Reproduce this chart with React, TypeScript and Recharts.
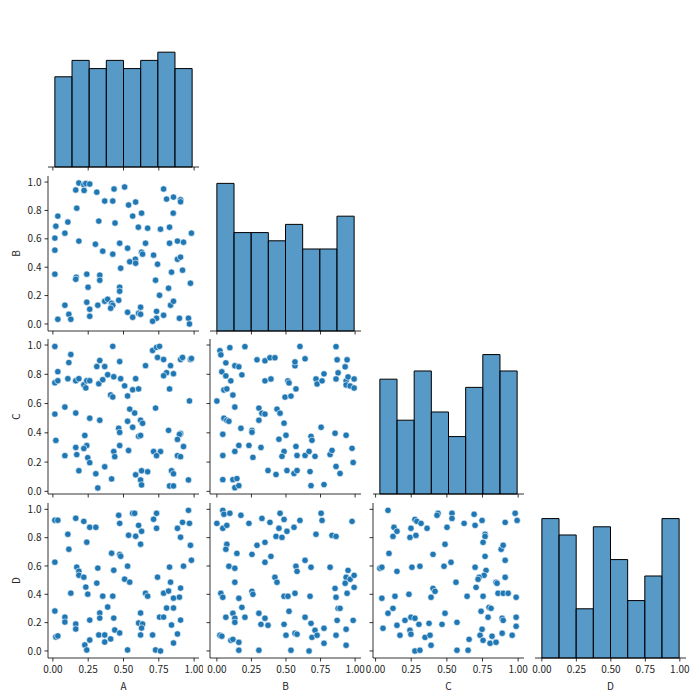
import React from 'react';
import { ScatterChart, Scatter, XAxis, YAxis, ComposedChart, ReferenceArea } from 'recharts';

// ---- variable names and value ranges (min, max) ----
const varNames = ['A', 'B', 'C', 'D'];
const rangeA = [0.014, 0.986];
const rangeB = [0.0, 0.993];
const rangeC = [0.03, 0.993];
const rangeD = [0.0, 0.995];

// ---- histogram counts (8 bins each) ----
const histA = [11, 13, 12, 13, 12, 13, 14, 12];
const histB = [18, 12, 12, 11, 13, 10, 10, 14];
const histC = [14, 9, 15, 10, 7, 13, 17, 15];
const histD = [17, 15, 6, 16, 12, 7, 10, 17];

// ---- tick values ----
const xTickValues = [0, 0.25, 0.5, 0.75, 1.0];
const yTickValues = [0, 0.2, 0.4, 0.6, 0.8, 1.0];

// ---- scatter points [x, y] ----
const ptsAB = [
  [0.184, 0.993], [0.219, 0.981], [0.233, 0.99], [0.261, 0.986], [0.162, 0.944], [0.221, 0.941], [0.311, 0.929], [0.433, 0.951],
  [0.508, 0.965], [0.784, 0.951], [0.805, 0.88], [0.854, 0.894], [0.904, 0.875], [0.904, 0.861], [0.367, 0.866], [0.424, 0.866],
  [0.536, 0.838], [0.586, 0.859], [0.169, 0.816], [0.852, 0.781], [0.628, 0.781], [0.565, 0.76], [0.035, 0.76], [0.021, 0.689],
  [0.106, 0.718], [0.325, 0.725], [0.44, 0.711], [0.605, 0.682], [0.671, 0.675], [0.762, 0.668], [0.826, 0.682], [0.981, 0.64],
  [0.085, 0.64], [0.014, 0.605], [0.184, 0.584], [0.301, 0.562], [0.473, 0.569], [0.656, 0.569], [0.882, 0.584], [0.925, 0.576],
  [0.826, 0.569], [0.014, 0.52], [0.353, 0.513], [0.529, 0.534], [0.424, 0.492], [0.628, 0.506], [0.635, 0.492], [0.713, 0.485],
  [0.584, 0.456], [0.544, 0.438], [0.586, 0.428], [0.741, 0.421], [0.882, 0.456], [0.904, 0.471], [0.48, 0.393], [0.918, 0.379],
  [0.84, 0.365], [0.014, 0.351], [0.165, 0.329], [0.162, 0.315], [0.24, 0.351], [0.332, 0.344], [0.332, 0.308], [0.727, 0.308],
  [0.974, 0.287], [0.249, 0.259], [0.473, 0.259], [0.473, 0.231], [0.819, 0.252], [0.755, 0.202], [0.085, 0.132], [0.24, 0.153],
  [0.367, 0.16], [0.388, 0.174], [0.466, 0.167], [0.416, 0.146], [0.424, 0.132], [0.409, 0.111], [0.318, 0.132], [0.261, 0.104],
  [0.621, 0.118], [0.833, 0.132], [0.854, 0.16], [0.113, 0.068], [0.035, 0.033], [0.127, 0.033], [0.261, 0.054], [0.529, 0.082],
  [0.565, 0.047], [0.607, 0.075], [0.621, 0.068], [0.734, 0.089], [0.734, 0.04], [0.784, 0.061], [0.706, 0.019], [0.896, 0.04],
  [0.96, 0.04], [0.967, 0.0],
];

const ptsAC = [
  [0.014, 0.99], [0.127, 0.935], [0.113, 0.88], [0.035, 0.818], [0.014, 0.742], [0.035, 0.756], [0.106, 0.77], [0.162, 0.756],
  [0.184, 0.77], [0.219, 0.728], [0.233, 0.707], [0.24, 0.756], [0.261, 0.756], [0.311, 0.853], [0.332, 0.894], [0.367, 0.853],
  [0.388, 0.797], [0.325, 0.735], [0.353, 0.763], [0.424, 0.991], [0.473, 0.887], [0.431, 0.783], [0.48, 0.77], [0.508, 0.721],
  [0.586, 0.77], [0.565, 0.694], [0.607, 0.7], [0.529, 0.652], [0.409, 0.659], [0.424, 0.645], [0.656, 0.859], [0.706, 0.963],
  [0.734, 0.984], [0.755, 0.991], [0.741, 0.915], [0.784, 0.901], [0.833, 0.859], [0.854, 0.804], [0.805, 0.811], [0.784, 0.79],
  [0.826, 0.7], [0.904, 0.901], [0.918, 0.915], [0.974, 0.901], [0.981, 0.908], [0.014, 0.528], [0.085, 0.576], [0.162, 0.535],
  [0.261, 0.5], [0.332, 0.486], [0.544, 0.562], [0.579, 0.535], [0.727, 0.569], [0.529, 0.479], [0.565, 0.438], [0.621, 0.486],
  [0.635, 0.465], [0.466, 0.431], [0.473, 0.403], [0.967, 0.618], [0.021, 0.348], [0.226, 0.382], [0.24, 0.313], [0.162, 0.3],
  [0.219, 0.293], [0.169, 0.251], [0.085, 0.244], [0.247, 0.23], [0.261, 0.196], [0.184, 0.141], [0.607, 0.376], [0.621, 0.382],
  [0.473, 0.313], [0.431, 0.272], [0.438, 0.237], [0.536, 0.279], [0.819, 0.417], [0.904, 0.396], [0.896, 0.389], [0.882, 0.355],
  [0.925, 0.306], [0.882, 0.244], [0.904, 0.237], [0.713, 0.272], [0.762, 0.272], [0.734, 0.244], [0.304, 0.12], [0.367, 0.168],
  [0.416, 0.085], [0.318, 0.023], [0.628, 0.141], [0.671, 0.134], [0.586, 0.113], [0.621, 0.078], [0.628, 0.044], [0.84, 0.141],
  [0.854, 0.12], [0.826, 0.037], [0.854, 0.037], [0.96, 0.078],
];

const ptsBC = [
  [0.022, 0.961], [0.029, 0.933], [0.094, 0.982], [0.203, 0.989], [0.065, 0.878], [0.13, 0.858], [0.159, 0.851], [0.181, 0.796],
  [0.036, 0.817], [0.065, 0.789], [0.101, 0.755], [0.051, 0.693], [0.072, 0.7], [0.116, 0.658], [0.0, 0.617], [0.13, 0.576],
  [0.29, 0.899], [0.348, 0.892], [0.384, 0.913], [0.42, 0.913], [0.348, 0.755], [0.391, 0.768], [0.493, 0.644], [0.536, 0.651],
  [0.514, 0.755], [0.522, 0.741], [0.572, 0.7], [0.565, 0.858], [0.565, 0.885], [0.638, 0.906], [0.601, 0.99], [0.717, 0.768],
  [0.725, 0.734], [0.761, 0.755], [0.775, 0.803], [0.862, 0.989], [0.87, 0.899], [0.942, 0.899], [0.877, 0.81], [0.928, 0.851],
  [0.862, 0.768], [0.935, 0.755], [0.949, 0.782], [0.935, 0.727], [0.964, 0.72], [0.993, 0.768], [0.993, 0.706], [0.051, 0.5],
  [0.072, 0.486], [0.087, 0.479], [0.043, 0.39], [0.174, 0.431], [0.304, 0.569], [0.326, 0.534], [0.348, 0.528], [0.304, 0.486],
  [0.435, 0.562], [0.457, 0.534], [0.486, 0.466], [0.449, 0.356], [0.5, 0.383], [0.254, 0.417], [0.254, 0.404], [0.043, 0.245],
  [0.13, 0.273], [0.159, 0.314], [0.232, 0.314], [0.261, 0.232], [0.319, 0.3], [0.486, 0.273], [0.471, 0.239], [0.572, 0.307],
  [0.58, 0.245], [0.638, 0.245], [0.667, 0.273], [0.681, 0.376], [0.688, 0.349], [0.71, 0.239], [0.754, 0.438], [0.819, 0.252],
  [0.833, 0.28], [0.855, 0.397], [0.935, 0.383], [0.978, 0.294], [0.986, 0.197], [0.862, 0.17], [0.891, 0.122], [0.043, 0.08],
  [0.116, 0.08], [0.145, 0.087], [0.13, 0.025], [0.159, 0.039], [0.37, 0.142], [0.428, 0.115], [0.507, 0.142], [0.558, 0.122],
  [0.58, 0.142], [0.674, 0.135], [0.681, 0.039], [0.775, 0.046],
];

const ptsAD = [
  [0.014, 0.923], [0.035, 0.923], [0.162, 0.937], [0.219, 0.915], [0.261, 0.873], [0.304, 0.873], [0.106, 0.824], [0.24, 0.768],
  [0.113, 0.718], [0.014, 0.627], [0.466, 0.958], [0.473, 0.901], [0.565, 0.972], [0.579, 0.972], [0.607, 0.887], [0.628, 0.845],
  [0.536, 0.817], [0.586, 0.81], [0.621, 0.754], [0.713, 0.93], [0.734, 0.972], [0.734, 0.866], [0.882, 0.866], [0.904, 0.803],
  [0.918, 0.908], [0.96, 0.993], [0.967, 0.901], [0.974, 0.746], [0.981, 0.641], [0.169, 0.592], [0.184, 0.563], [0.184, 0.535],
  [0.219, 0.521], [0.318, 0.585], [0.311, 0.479], [0.416, 0.69], [0.473, 0.681], [0.48, 0.669], [0.431, 0.57], [0.508, 0.507],
  [0.544, 0.486], [0.529, 0.599], [0.233, 0.451], [0.247, 0.401], [0.127, 0.408], [0.353, 0.387], [0.424, 0.387], [0.388, 0.31],
  [0.656, 0.408], [0.671, 0.387], [0.741, 0.521], [0.826, 0.592], [0.833, 0.486], [0.925, 0.599], [0.784, 0.408], [0.819, 0.423],
  [0.854, 0.373], [0.896, 0.38], [0.904, 0.444], [0.805, 0.303], [0.854, 0.303], [0.014, 0.282], [0.085, 0.239], [0.085, 0.204],
  [0.162, 0.19], [0.162, 0.155], [0.261, 0.218], [0.332, 0.268], [0.332, 0.232], [0.431, 0.232], [0.621, 0.268], [0.607, 0.197],
  [0.635, 0.19], [0.628, 0.162], [0.755, 0.239], [0.784, 0.239], [0.84, 0.183], [0.904, 0.218], [0.021, 0.099], [0.035, 0.106],
  [0.226, 0.042], [0.24, 0.007], [0.261, 0.077], [0.325, 0.113], [0.367, 0.113], [0.367, 0.063], [0.409, 0.085], [0.438, 0.148],
  [0.473, 0.127], [0.529, 0.007], [0.621, 0.113], [0.706, 0.113], [0.727, 0.007], [0.762, 0.0], [0.854, 0.056], [0.882, 0.12],
];

const ptsBD = [
  [0.0, 0.901], [0.043, 0.993], [0.051, 0.965], [0.094, 0.972], [0.043, 0.866], [0.072, 0.887], [0.174, 0.958], [0.232, 0.901],
  [0.326, 0.936], [0.384, 0.908], [0.457, 0.972], [0.486, 0.929], [0.449, 0.866], [0.507, 0.845], [0.558, 0.873], [0.601, 0.922],
  [0.428, 0.809], [0.471, 0.802], [0.348, 0.767], [0.29, 0.746], [0.254, 0.682], [0.391, 0.668], [0.348, 0.626], [0.072, 0.753],
  [0.065, 0.718], [0.145, 0.689], [0.087, 0.598], [0.13, 0.584], [0.13, 0.485], [0.754, 0.972], [0.761, 0.922], [0.978, 0.915],
  [0.717, 0.824], [0.833, 0.816], [0.862, 0.809], [0.638, 0.64], [0.681, 0.591], [0.572, 0.598], [0.58, 0.562], [0.819, 0.591],
  [0.42, 0.52], [0.435, 0.485], [0.949, 0.569], [0.935, 0.52], [0.964, 0.506], [0.993, 0.534], [0.928, 0.478], [0.855, 0.442],
  [0.993, 0.449], [0.942, 0.407], [0.029, 0.407], [0.043, 0.379], [0.254, 0.421], [0.261, 0.4], [0.159, 0.372], [0.181, 0.308],
  [0.116, 0.266], [0.065, 0.238], [0.13, 0.231], [0.13, 0.202], [0.203, 0.238], [0.304, 0.266], [0.348, 0.231], [0.319, 0.188],
  [0.37, 0.181], [0.486, 0.386], [0.514, 0.386], [0.565, 0.407], [0.522, 0.28], [0.486, 0.188], [0.674, 0.386], [0.638, 0.238],
  [0.681, 0.195], [0.862, 0.379], [0.877, 0.301], [0.891, 0.301], [0.87, 0.216], [0.986, 0.216], [0.935, 0.153], [0.022, 0.111],
  [0.036, 0.104], [0.101, 0.075], [0.116, 0.082], [0.159, 0.061], [0.159, 0.005], [0.304, 0.005], [0.5, 0.111], [0.536, 0.005],
  [0.565, 0.125], [0.58, 0.118], [0.667, 0.0], [0.688, 0.096], [0.71, 0.146], [0.725, 0.111], [0.775, 0.16], [0.775, 0.054],
  [0.862, 0.111], [0.935, 0.04],
];

const ptsCD = [
  [0.087, 0.993], [0.129, 0.873], [0.15, 0.845], [0.122, 0.809], [0.094, 0.689], [0.248, 0.866], [0.241, 0.802], [0.283, 0.816],
  [0.276, 0.929], [0.29, 0.915], [0.319, 0.901], [0.361, 0.866], [0.403, 0.682], [0.438, 0.972], [0.431, 0.958], [0.501, 0.873],
  [0.487, 0.753], [0.536, 0.972], [0.536, 0.936], [0.621, 0.901], [0.691, 0.965], [0.698, 0.887], [0.747, 0.922], [0.768, 0.824],
  [0.768, 0.809], [0.754, 0.767], [0.768, 0.668], [0.881, 0.718], [0.895, 0.746], [0.909, 0.908], [0.979, 0.972], [0.993, 0.922],
  [0.909, 0.64], [0.03, 0.584], [0.044, 0.591], [0.15, 0.562], [0.255, 0.591], [0.311, 0.598], [0.48, 0.598], [0.529, 0.626],
  [0.698, 0.591], [0.775, 0.569], [0.761, 0.534], [0.726, 0.52], [0.719, 0.506], [0.705, 0.449], [0.564, 0.485], [0.845, 0.485],
  [0.852, 0.478], [0.909, 0.52], [0.403, 0.442], [0.417, 0.421], [0.389, 0.379], [0.642, 0.386], [0.754, 0.386], [0.859, 0.407],
  [0.895, 0.407], [0.93, 0.407], [0.986, 0.379], [0.044, 0.372], [0.136, 0.386], [0.234, 0.4], [0.122, 0.301], [0.087, 0.266],
  [0.487, 0.266], [0.796, 0.308], [0.81, 0.301], [0.74, 0.28], [0.789, 0.238], [0.986, 0.238], [0.888, 0.231], [0.895, 0.216],
  [0.052, 0.16], [0.15, 0.181], [0.206, 0.216], [0.248, 0.238], [0.276, 0.231], [0.304, 0.188], [0.375, 0.195], [0.466, 0.188],
  [0.571, 0.202], [0.241, 0.146], [0.248, 0.118], [0.171, 0.111], [0.347, 0.096], [0.382, 0.111], [0.389, 0.04], [0.656, 0.082],
  [0.733, 0.111], [0.747, 0.153], [0.754, 0.075], [0.817, 0.104], [0.803, 0.054], [0.845, 0.061], [0.888, 0.125], [0.958, 0.111],
  [0.986, 0.174], [0.276, 0.0], [0.311, 0.005], [0.571, 0.005], [0.649, 0.005],
];

// ---- lookup tables built from the arrays above ----
const ranges: Record<string, number[]> = { A: rangeA, B: rangeB, C: rangeC, D: rangeD };
const hists: Record<string, number[]> = { A: histA, B: histB, C: histC, D: histD };
const pairs: Record<string, number[][]> = {
  'A-B': ptsAB, 'A-C': ptsAC, 'B-C': ptsBC, 'A-D': ptsAD, 'B-D': ptsBD, 'C-D': ptsCD,
};

// ---- layout ----
const PW = 151;
const PH = 155;
const colLeft = [48, 210, 373, 535];
const rowTop = [12, 176, 339, 503];
const LM = 48;
const TM = 4;
const RM = 4;
const BM = 40;

const FONT = '"Noto Sans CJK SC", "Noto Sans", sans-serif';
const TEXT_COLOR = '#262626';
const HIST_FILL = '#1f77b4';
const DOT_COLOR = '#1f77b4';

const histMax = Math.max(...histA, ...histB, ...histC, ...histD) * 1.05;

const padDomain = (r: number[]) => {
  const span = r[1] - r[0];
  return [r[0] - 0.05 * span, r[1] + 0.05 * span];
};

const Dot = (p: any) => (
  <circle cx={p.cx} cy={p.cy} r={3.2} fill={DOT_COLOR} stroke="#ffffff" strokeWidth={0.6} />
);

const axisLineStyle = { stroke: '#000', strokeWidth: 0.8 };
const tickStyle = { fill: TEXT_COLOR, fontSize: 10, fontFamily: FONT };

const makeYLabel = (name: string) => (props: any) => {
  const vb = props.viewBox || { x: 0, y: 0, width: 0, height: 0 };
  const cx = vb.x + 15;
  const cy = vb.y + vb.height / 2;
  return (
    <text
      x={cx}
      y={cy}
      transform={`rotate(-90 ${cx} ${cy})`}
      textAnchor="middle"
      dominantBaseline="central"
      fontSize={10}
      fill={TEXT_COLOR}
      fontFamily={FONT}
    >
      {name}
    </text>
  );
};

function xAxisFor(c: number, r: number) {
  const v = varNames[c];
  const bottom = r === 3;
  return (
    <XAxis
      type="number"
      dataKey="x"
      domain={padDomain(ranges[v])}
      ticks={xTickValues}
      allowDataOverflow
      height={BM}
      tickSize={3.5}
      tickMargin={4}
      axisLine={axisLineStyle}
      tickLine={axisLineStyle}
      tick={tickStyle}
      tickFormatter={(t: number) => (bottom ? t.toFixed(2) : '')}
      interval={0}
      label={
        bottom
          ? { value: v, position: 'insideBottom', offset: 8, fill: TEXT_COLOR, fontSize: 10, fontFamily: FONT }
          : undefined
      }
    />
  );
}

function ScatterPanel({ c, r }: { c: number; r: number }) {
  const xv = varNames[c];
  const yv = varNames[r];
  const pts = pairs[`${xv}-${yv}`].map((p) => ({ x: p[0], y: p[1] }));
  const first = c === 0;
  return (
    <div style={{ position: 'absolute', left: colLeft[c] - LM, top: rowTop[r] - TM }}>
      <ScatterChart
        width={LM + PW + RM}
        height={TM + PH + BM}
        margin={{ top: TM, right: RM, bottom: 0, left: 0 }}
      >
        {xAxisFor(c, r)}
        <YAxis
          type="number"
          dataKey="y"
          domain={padDomain(ranges[yv])}
          ticks={yTickValues}
          allowDataOverflow
          width={LM}
          tickSize={3.5}
          tickMargin={3}
          axisLine={axisLineStyle}
          tickLine={axisLineStyle}
          tick={tickStyle}
          interval={0}
          tickFormatter={(t: number) => (first ? t.toFixed(1) : '')}
          label={first ? { content: makeYLabel(yv) } : undefined}
        />
        <Scatter data={pts} shape={Dot} isAnimationActive={false} />
      </ScatterChart>
    </div>
  );
}

function HistPanel({ i }: { i: number }) {
  const v = varNames[i];
  const rg = ranges[v];
  const counts = hists[v];
  const w = (rg[1] - rg[0]) / counts.length;
  const bins = counts.map((n, k) => ({ x1: rg[0] + k * w, x2: rg[0] + (k + 1) * w, n }));
  const mids = bins.map((b) => ({ x: (b.x1 + b.x2) / 2, y: b.n }));
  return (
    <div style={{ position: 'absolute', left: colLeft[i] - LM, top: rowTop[i] - TM }}>
      <ComposedChart
        width={LM + PW + RM}
        height={TM + PH + BM}
        margin={{ top: TM, right: RM, bottom: 0, left: LM }}
        data={mids}
      >
        {xAxisFor(i, i)}
        <YAxis hide type="number" dataKey="y" domain={[0, histMax]} allowDataOverflow />
        {bins.map((b, k) => (
          <ReferenceArea
            key={k}
            x1={b.x1}
            x2={b.x2}
            y1={0}
            y2={b.n}
            fill={HIST_FILL}
            fillOpacity={0.75}
            stroke="#000"
            strokeWidth={1}
            strokeOpacity={1}
            ifOverflow="visible"
          />
        ))}
      </ComposedChart>
    </div>
  );
}

export default function App() {
  const scatterCells: { c: number; r: number }[] = [];
  for (let r = 1; r < 4; r++) for (let c = 0; c < r; c++) scatterCells.push({ c, r });
  return (
    <div
      style={{
        position: 'absolute',
        left: 0,
        top: 0,
        width: 700,
        height: 700,
        background: '#ffffff',
        fontFamily: FONT,
        overflow: 'hidden',
      }}
    >
      {scatterCells.map(({ c, r }) => (
        <ScatterPanel key={`${c}-${r}`} c={c} r={r} />
      ))}
      {[0, 1, 2, 3].map((i) => (
        <HistPanel key={`h${i}`} i={i} />
      ))}
    </div>
  );
}
